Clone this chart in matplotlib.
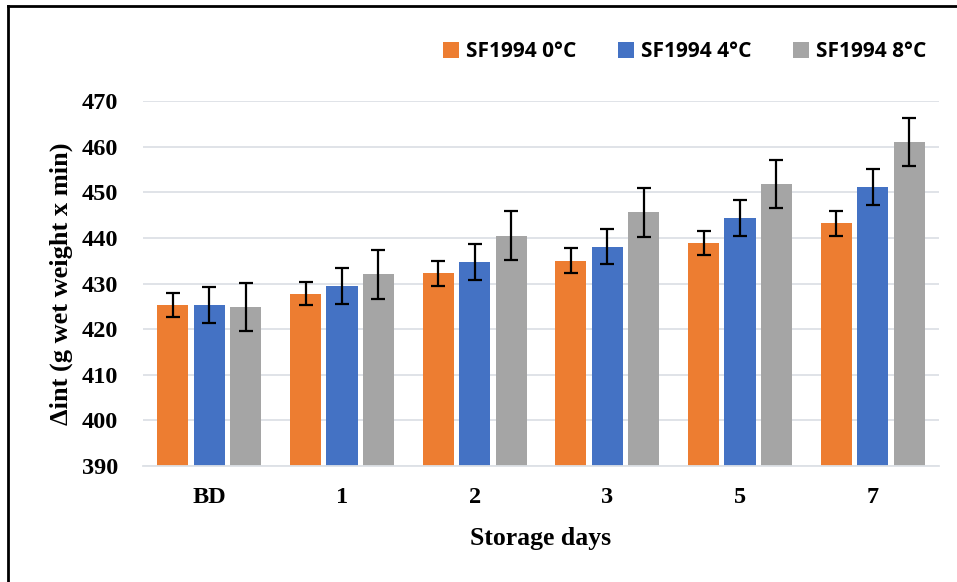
import numpy as np
import matplotlib.pyplot as plt
from matplotlib.lines import Line2D

# values
days = ['BD', '1', '2', '3', '5', '7']
series = ['SF1994 0°C', 'SF1994 4°C', 'SF1994 8°C']
vals_0 = [425.3, 427.8, 432.2, 435.0, 438.9, 443.2]
vals_4 = [425.3, 429.5, 434.7, 438.1, 444.4, 451.2]
vals_8 = [424.9, 432.0, 440.5, 445.6, 451.8, 461.0]
err_0 = [2.7, 2.6, 2.8, 2.8, 2.6, 2.7]
err_4 = [3.9, 3.9, 3.9, 3.9, 3.9, 3.9]
err_8 = [5.3, 5.3, 5.3, 5.4, 5.3, 5.3]
colors = ['#ED7D31', '#4472C4', '#A5A5A5']

fig = plt.figure(figsize=(9.57, 5.82), dpi=100)
ax = fig.add_axes([143 / 957, 1 - 466 / 582, 796 / 957, 365 / 582])

x = np.arange(len(days))
w = 0.235
off = 0.275
for i, (v, e) in enumerate([(vals_0, err_0), (vals_4, err_4), (vals_8, err_8)]):
    ax.bar(x + (i - 1) * off, np.array(v) - 390, bottom=390, width=w,
           color=colors[i], label=series[i], zorder=2,
           yerr=e, capsize=4.8, error_kw=dict(elinewidth=1.6, capthick=1.6, ecolor='black', zorder=3))

ax.set_xlim(-0.5, len(days) - 0.5)
ax.set_ylim(390, 470)
ax.set_yticks(np.arange(390, 471, 10))
ax.set_xticks(x)
ax.set_xticklabels(days)
ax.grid(axis='y', color='#DDE1E6', linewidth=1.3, zorder=0)
for s in ['top', 'right', 'left']:
    ax.spines[s].set_visible(False)
ax.spines['bottom'].set_color('#DDE1E6')
ax.spines['bottom'].set_linewidth(1.3)
ax.tick_params(length=0)
ax.tick_params(axis='y', pad=18)
ax.tick_params(axis='x', pad=15)

serif = 'Liberation Serif'
for lab in ax.get_xticklabels() + ax.get_yticklabels():
    lab.set_fontfamily(serif)
    lab.set_fontweight('bold')
    lab.set_fontsize(17.5)
ax.set_xlabel('Storage days', fontfamily=serif, fontweight='bold', fontsize=18.5, labelpad=14)
ax.set_ylabel('\u0394int (g wet weight x min)', fontfamily=serif, fontweight='bold', fontsize=19, labelpad=6)

leg = ax.legend(loc='lower right', bbox_to_anchor=(1.008, 1.055), ncol=3, frameon=False,
                prop=dict(family='Open Sans', weight='bold', size=15),
                handlelength=0.75, handleheight=0.75, handletextpad=0.35, columnspacing=2.0)

# figure frame (top and left edges only)
fig.add_artist(Line2D([8 / 957, 8 / 957], [0, 1 - 6 / 582], transform=fig.transFigure, color='black', linewidth=2))
fig.add_artist(Line2D([8 / 957, 1], [1 - 6 / 582, 1 - 6 / 582], transform=fig.transFigure, color='black', linewidth=2))

fig.savefig('out.png', dpi=100)
